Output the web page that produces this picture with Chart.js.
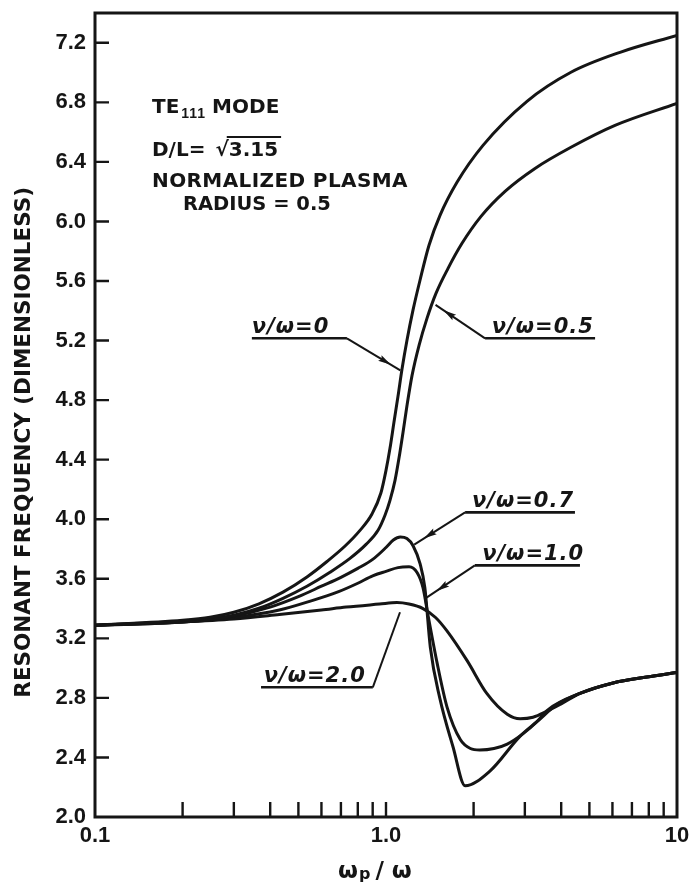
<!DOCTYPE html>
<html>
<head>
<meta charset="utf-8">
<script src="https://cdn.jsdelivr.net/npm/chart.js@4.4.1/dist/chart.umd.min.js"></script>
<style>
  html, body { margin: 0; padding: 0; background: #fff; }
  #wrap { position: relative; width: 690px; height: 884px; }
</style>
</head>
<body>
<div id="wrap"><canvas id="c"></canvas></div>
<script>
// Axis ticks
const yTicks = [2.0, 2.4, 2.8, 3.2, 3.6, 4.0, 4.4, 4.8, 5.2, 5.6, 6.0, 6.4, 6.8, 7.2];
const xLabelValues = [0.1, 1, 10];
const xTickLabels = ['0.1', '1.0', '10'];
const xMinorTicks = [0.2, 0.3, 0.4, 0.5, 0.6, 0.7, 0.8, 0.9, 1, 2, 3, 4, 5, 6, 7, 8, 9];

// Resonant frequency vs. wp/w, one curve per collision ratio nu/w  ([wp/w, f])
const nu0 = [[0.1,3.288],[0.2,3.321],[0.2485,3.341],[0.3,3.375],[0.366,3.432],[0.4426,3.51],
  [0.535,3.612],[0.627,3.716],[0.7233,3.82],[0.814,3.925],[0.895,4.035],[0.961,4.178],[1.0,4.328],
  [1.032,4.476],[1.065,4.651],[1.0996,4.826],[1.1348,5.007],[1.1806,5.202],[1.2381,5.404],
  [1.3088,5.605],[1.4055,5.84],[1.5332,6.041],[1.7538,6.263],[2.1544,6.511],[3.0514,6.807],
  [4.3219,7.002],[6.37,7.136],[10,7.25]];
const nu05 = [[0.1,3.288],[0.2,3.314],[0.2485,3.328],[0.3,3.355],[0.366,3.402],[0.4426,3.469],
  [0.535,3.55],[0.642,3.644],[0.752,3.737],[0.854,3.831],[0.939,3.926],[0.992,4.027],[1.032,4.127],
  [1.074,4.261],[1.108,4.409],[1.144,4.583],[1.181,4.765],[1.229,4.966],[1.299,5.168],[1.383,5.349],
  [1.485,5.517],[1.634,5.685],[1.825,5.853],[2.121,6.034],[2.565,6.202],[3.251,6.356],[4.322,6.498],
  [6.123,6.645],[10,6.793]];
const nu07 = [[0.1,3.288],[0.2,3.31],[0.3,3.35],[0.4,3.41],[0.5,3.48],[0.6,3.55],[0.7,3.61],[0.8,3.67],
  [0.9,3.73],[1.0,3.81],[1.06,3.86],[1.12,3.88],[1.18,3.87],[1.24,3.82],[1.31,3.70],[1.36,3.54],
  [1.42,3.14],[1.53,2.80],[1.70,2.47],[1.87,2.21],[2.28,2.31],[2.88,2.54],[3.3,2.64],[3.9,2.76],
  [4.64,2.83],[6.03,2.90],[7.88,2.94],[10,2.97]];
const nu10 = [[0.1,3.288],[0.2,3.31],[0.3,3.34],[0.43,3.39],[0.55,3.45],[0.68,3.51],[0.8,3.57],[0.9,3.62],
  [1.0,3.65],[1.1,3.675],[1.2,3.68],[1.28,3.64],[1.34,3.54],[1.39,3.37],[1.5,3.03],[1.62,2.74],
  [1.8,2.52],[1.95,2.46],[2.1,2.45],[2.35,2.46],[2.61,2.49],[2.96,2.56],[3.3,2.64],[3.6,2.72],
  [4.64,2.83],[6.03,2.90],[7.88,2.94],[10,2.97]];
const nu20 = [[0.1,3.288],[0.2,3.31],[0.3,3.33],[0.43,3.36],[0.6,3.39],[0.73,3.41],[0.95,3.43],[1.09,3.44],
  [1.2,3.43],[1.34,3.40],[1.48,3.34],[1.62,3.25],[1.9,3.05],[2.22,2.83],[2.61,2.69],[2.89,2.66],
  [3.2,2.67],[3.57,2.71],[4.0,2.76],[4.64,2.83],[6.03,2.90],[7.88,2.94],[10,2.97]];

const seriesNames = ['ν/ω=0', 'ν/ω=0.5', 'ν/ω=0.7', 'ν/ω=1.0', 'ν/ω=2.0'];
const seriesData = [nu0, nu05, nu07, nu10, nu20];

// Curve call-outs: underline from x0 to x1 at y, leader from one end to the tip on the curve
const callouts = [
  { text: 'ν/ω=0',   tx: 0.346, x0: 0.346, x1: 0.734, y: 5.215, from: 'end',   tip: [1.12, 5.00], arrow: 0.72 },
  { text: 'ν/ω=0.5', tx: 2.31,  x0: 2.19,  x1: 5.23,  y: 5.215, from: 'start', tip: [1.48, 5.44], arrow: 0.73 },
  { text: 'ν/ω=0.7', tx: 1.975, x0: 1.87,  x1: 4.46,  y: 4.046, from: 'start', tip: [1.25, 3.83], arrow: 0.70 },
  { text: 'ν/ω=1.0', tx: 2.14,  x0: 2.02,  x1: 4.64,  y: 3.69,  from: 'start', tip: [1.37, 3.47], arrow: 0.67 },
  { text: 'ν/ω=2.0', tx: 0.38,  x0: 0.372, x1: 0.901, y: 2.871, from: 'end',   tip: [1.117, 3.375], arrow: null }
];

const yTitle = 'RESONANT FREQUENCY (DIMENSIONLESS)';
const INK = '#151515';
const WORD_FONT = '"DejaVu Sans", sans-serif';
const NUM_FONT = '"Liberation Sans", Arial, sans-serif';

function arrowHead(ctx, x0, y0, x1, y1, t) {
  const ang = Math.atan2(y1 - y0, x1 - x0);
  const cx = x0 + (x1 - x0) * t, cy = y0 + (y1 - y0) * t;
  const L = 13, W = 3.3;
  ctx.save();
  ctx.translate(cx, cy);
  ctx.rotate(ang);
  ctx.beginPath();
  ctx.moveTo(L / 2, 0);
  ctx.lineTo(-L / 2, W);
  ctx.lineTo(-L / 3, 0);
  ctx.lineTo(-L / 2, -W);
  ctx.closePath();
  ctx.fill();
  ctx.restore();
}

const decor = {
  id: 'decor',
  afterDatasetsDraw(chart) {
    const ctx = chart.ctx, a = chart.chartArea, sx = chart.scales.x, sy = chart.scales.y;
    const px = v => sx.getPixelForValue(v), py = v => sy.getPixelForValue(v);
    ctx.save();
    ctx.strokeStyle = INK;
    ctx.fillStyle = INK;

    // plot frame
    ctx.lineWidth = 3;
    ctx.strokeRect(a.left, a.top, a.right - a.left, a.bottom - a.top);

    // inward tick marks
    ctx.lineWidth = 2.4;
    ctx.beginPath();
    yTicks.forEach(v => {
      if (v <= sy.min) return;
      const y = py(v);
      ctx.moveTo(a.left, y); ctx.lineTo(a.left + 14, y);
    });
    xMinorTicks.forEach(v => {
      const x = px(v);
      ctx.moveTo(x, a.bottom); ctx.lineTo(x, a.bottom - 15);
    });
    ctx.stroke();

    // call-outs
    ctx.font = 'italic bold 21px ' + WORD_FONT;
    ctx.textBaseline = 'alphabetic';
    ctx.textAlign = 'left';
    if ('letterSpacing' in ctx) ctx.letterSpacing = '1px';
    callouts.forEach(c => {
      const ly = py(c.y);
      const xa = px(c.x0), xb = px(c.x1);
      ctx.fillText(c.text, px(c.tx), ly - 5);
      ctx.lineWidth = 2.6;
      ctx.beginPath();
      ctx.moveTo(xa, ly); ctx.lineTo(xb, ly);
      ctx.stroke();
      const sxp = c.from === 'end' ? xb : xa;
      const tx = px(c.tip[0]), ty = py(c.tip[1]);
      ctx.lineWidth = 2;
      ctx.beginPath();
      ctx.moveTo(sxp, ly); ctx.lineTo(tx, ty);
      ctx.stroke();
      if (c.arrow !== null) arrowHead(ctx, sxp, ly, tx, ty, c.arrow);
    });
    if ('letterSpacing' in ctx) ctx.letterSpacing = '0px';

    // mode / geometry note
    const nx = px(0.157);
    ctx.font = 'bold 20px ' + WORD_FONT;
    let y1 = py(6.726);
    ctx.fillText('TE', nx, y1);
    let w = ctx.measureText('TE').width;
    ctx.font = 'bold 14px ' + NUM_FONT;
    if ('letterSpacing' in ctx) ctx.letterSpacing = '1px';
    ctx.fillText('111', nx + w + 2, y1 + 5);
    w += 2 + ctx.measureText('111').width;
    if ('letterSpacing' in ctx) ctx.letterSpacing = '0px';
    ctx.font = 'bold 20px ' + WORD_FONT;
    ctx.fillText('MODE', nx + w + 6, y1);

    let y2 = py(6.437);
    ctx.fillText('D/L=', nx, y2);
    const rx = nx + ctx.measureText('D/L=').width + 10;
    ctx.fillText('√3.15', rx, y2);
    const rootW = ctx.measureText('√').width;
    const fullW = ctx.measureText('√3.15').width;
    ctx.lineWidth = 2;
    ctx.beginPath();
    ctx.moveTo(rx + rootW - 2, y2 - 19.5);
    ctx.lineTo(rx + fullW + 3, y2 - 19.5);
    ctx.stroke();

    if ('letterSpacing' in ctx) ctx.letterSpacing = '0.4px';
    ctx.fillText('NORMALIZED PLASMA', nx, py(6.229));
    if ('letterSpacing' in ctx) ctx.letterSpacing = '0px';
    ctx.font = 'bold 19.5px ' + WORD_FONT;
    ctx.fillText('RADIUS = 0.5', px(0.2006), py(6.074));

    // y-axis title
    ctx.save();
    ctx.translate(24, a.top + (a.bottom - a.top) * 0.534);
    ctx.rotate(-Math.PI / 2);
    ctx.font = 'bold 21.5px ' + WORD_FONT;
    ctx.textAlign = 'center';
    ctx.textBaseline = 'middle';
    ctx.fillText(yTitle, 0, 0);
    ctx.restore();

    // x-axis title: wp / w
    ctx.font = 'bold 23px ' + WORD_FONT;
    const base = 878;
    let xx = (a.left + a.right) / 2 - 48;
    ctx.fillText('ω', xx, base);
    xx += ctx.measureText('ω').width + 1;
    ctx.font = 'bold 16px ' + WORD_FONT;
    ctx.fillText('p', xx, base + 1);
    xx += ctx.measureText('p').width + 5;
    ctx.font = 'bold 23px ' + WORD_FONT;
    ctx.fillText('/ ω', xx, base);

    ctx.restore();
  }
};

new Chart(document.getElementById('c'), {
  type: 'scatter',
  data: {
    datasets: seriesData.map((pts, i) => ({
      label: seriesNames[i],
      data: pts.map(([x, y]) => ({ x, y })),
      showLine: true,
      borderColor: INK,
      borderWidth: 3,
      pointRadius: 0,
      pointHoverRadius: 0,
      cubicInterpolationMode: 'monotone',
      fill: false
    }))
  },
  options: {
    responsive: true,
    maintainAspectRatio: false,
    animation: false,
    events: [],
    layout: { padding: { top: 13, right: 13, left: 0, bottom: 0 } },
    plugins: { legend: { display: false }, tooltip: { enabled: false } },
    scales: {
      x: {
        type: 'logarithmic',
        min: 0.1, max: 10,
        grid: { display: false, drawTicks: false },
        border: { display: false },
        afterBuildTicks: s => { s.ticks = xLabelValues.map(v => ({ value: v })); },
        afterFit: s => { s.height = 67; s.paddingLeft = 0; s.paddingRight = 0; },
        ticks: {
          callback: (v, i) => xTickLabels[i],
          autoSkip: false, maxRotation: 0, padding: 6,
          color: INK,
          font: { family: NUM_FONT, size: 22, weight: 'bold' }
        }
      },
      y: {
        min: 2.0, max: 7.4,
        grid: { display: false, drawTicks: false },
        border: { display: false },
        afterBuildTicks: s => { s.ticks = yTicks.map(v => ({ value: v })); },
        afterFit: s => { s.width = 95; s.paddingTop = 0; s.paddingBottom = 0; },
        ticks: {
          callback: v => Number(v).toFixed(1),
          padding: 9,
          color: INK,
          font: { family: NUM_FONT, size: 22, weight: 'bold' }
        }
      }
    }
  },
  plugins: [decor]
});
</script>
</body>
</html>
